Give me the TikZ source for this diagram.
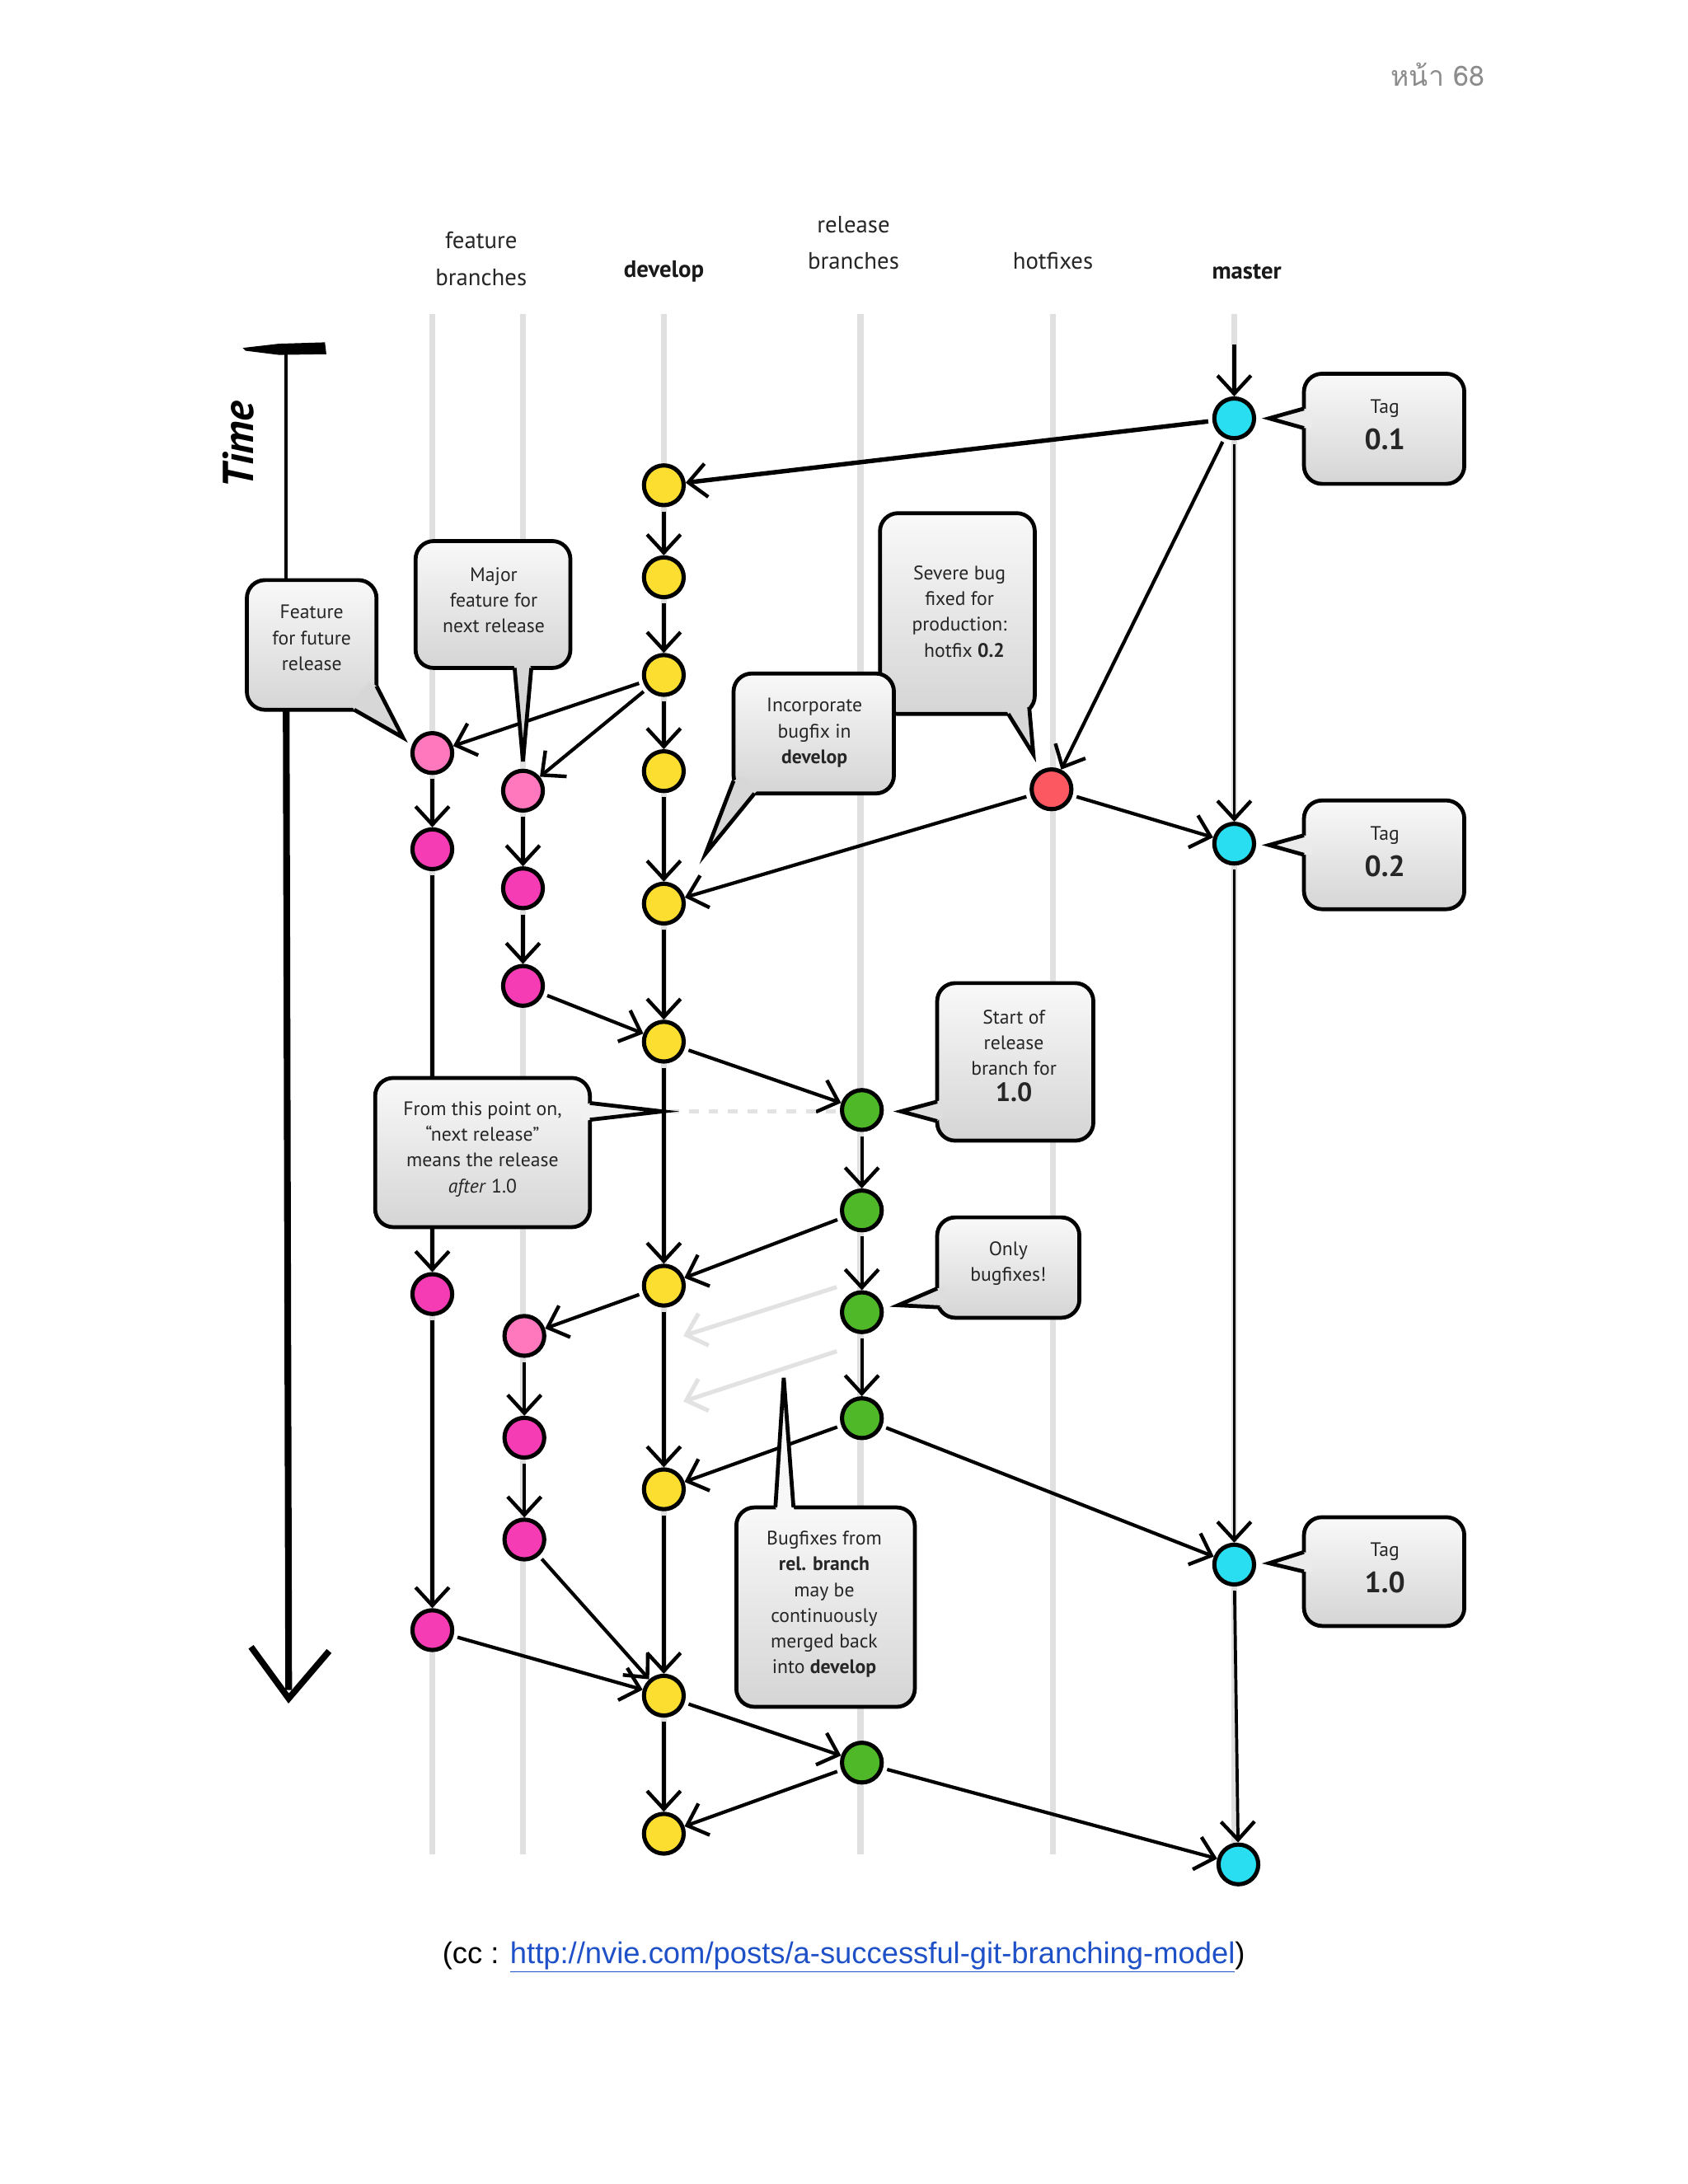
\documentclass[tikz,border=0pt]{standalone}
\usepackage{fontspec}
\setmainfont{PT Sans}
\newfontfamily\footfont{Liberation Sans}
\newfontfamily\thaifont[Script=Thai]{Loma}
\usetikzlibrary{arrows.meta,calc}
\definecolor{cyel}{RGB}{252,222,48}
\definecolor{ccyan}{RGB}{40,222,240}
\definecolor{cpinkl}{RGB}{255,120,190}
\definecolor{cmag}{RGB}{245,60,180}
\definecolor{cred}{RGB}{252,88,98}
\definecolor{cgreen}{RGB}{78,184,40}
\definecolor{collinec}{RGB}{224,224,224}
\definecolor{fadedc}{RGB}{226,226,226}
\definecolor{linkblue}{RGB}{30,80,200}
\definecolor{pagegray}{RGB}{140,140,140}
\pgfdeclarelayer{bg}
\pgfdeclarelayer{edges}
\pgfsetlayers{bg,edges,main}
\newcommand\mkptr[5]{%
  \fill[#5] (#2) -- (#3) -- (#4) -- ($(#4)!6pt!(#1.center)$) -- ($(#2)!6pt!(#1.center)$) -- cycle;
  \draw[ptrline] (#2) -- (#3) -- (#4);
}
\begin{document}
\begin{tikzpicture}[x=1pt,y=-1pt,
  commit/.style={circle,draw=black,line width=3pt,minimum size=28.5pt,inner sep=0pt},
  yel/.style={commit,fill=cyel},
  cya/.style={commit,fill=ccyan},
  pnk/.style={commit,fill=cpinkl},
  mag/.style={commit,fill=cmag},
  rd/.style={commit,fill=cred},
  grn/.style={commit,fill=cgreen},
  cedge/.style={draw=black,line width=2.5pt,shorten <=3pt,-{Straight Barb[length=13pt,width=24pt,line width=2.6pt]}},
  fedge/.style={draw=fadedc,line width=3pt,shorten <=0pt,-{Straight Barb[length=13pt,width=24pt,line width=3pt]}},
  callbox/.style={draw=black,line width=2.8pt,rounded corners=13pt,top color=gray!5,bottom color=gray!33,inner sep=0pt},
  ptrline/.style={draw=black,line width=2.8pt,line join=miter},
  ctext/.style={font=\fontsize{14}{18.5}\selectfont,align=center,text=black!85},
  tagnum/.style={font=\bfseries\fontsize{21}{22}\selectfont,text=black!85},
  hdr/.style={font=\fontsize{17}{20}\selectfont,anchor=base,text=black!85},
  hdrb/.style={font=\bfseries\fontsize{17}{20}\selectfont,anchor=base,text=black!90},
  colline/.style={draw=collinec,line width=4.5pt},
]
\useasboundingbox (0,0) rectangle (1210.4,1566.2);

\begin{pgfonlayer}{bg}
\fill[white] (0,0) rectangle (1210.4,1566.2);
% column guide lines
\foreach \cx in {310,375,476,617,755,885}{
  \draw[colline] (\cx,225) -- (\cx,1330);
}
% time arrow
\fill[black] (174,249.5) -- (200,246.5) -- (233,245.5) -- (234,254) -- (200,254.5) -- (176,251.5) -- cycle;
\draw[line width=2.4pt] (205,252) -- (205,430);
\draw[line width=4.8pt] (205,420) -- (207,1212);
\draw[line width=4.5pt,line join=miter] (180,1181) -- (207,1218) -- (236,1184);
\end{pgfonlayer}

% headers
\node[hdr] (hf1) at (345,178) {feature};
\node[hdr] (hf2) at (345,205) {branches};
\node[hdrb] (hdev) at (476,199) {develop};
\node[hdr] (hr1) at (612,167) {release};
\node[hdr] (hr2) at (612,193) {branches};
\node[hdr] (hhot) at (755,193) {hotfixes};
\node[hdrb] (hmas) at (894,200) {master};
\node[anchor=base east,font=\thaifont\fontsize{20}{24}\selectfont,text=pagegray] (pg) at (1068,62) {หน้า 68};
\node[rotate=90,font=\bfseries\itshape\fontsize{31}{34}\selectfont] (time) at (171,319) {Time};

% commits
\node[cya] (M1) at (885,300) {};
\node[cya] (M2) at (885,605) {};
\node[cya] (M3) at (885,1122) {};
\node[cya] (M4) at (888,1337) {};
\node[yel] (D1) at (476,348) {};
\node[yel] (D2) at (476,414) {};
\node[yel] (D3) at (476,484) {};
\node[yel] (D4) at (476,553) {};
\node[yel] (D5) at (476,648) {};
\node[yel] (D6) at (476,747) {};
\node[yel] (D7) at (476,922) {};
\node[yel] (D8) at (476,1068) {};
\node[yel] (D9) at (476,1216) {};
\node[yel] (D10) at (476,1315) {};
\node[pnk] (F1a) at (310,540) {};
\node[mag] (F1b) at (310,609) {};
\node[mag] (F1c) at (310,928) {};
\node[mag] (F1d) at (310,1169) {};
\node[pnk] (F2a) at (375,567) {};
\node[mag] (F2b) at (375,637) {};
\node[mag] (F2c) at (375,707) {};
\node[pnk] (F2d) at (376,958) {};
\node[mag] (F2e) at (376,1031) {};
\node[mag] (F2f) at (376,1104) {};
\node[rd] (H1) at (754,566) {};
\node[grn] (R1) at (618,796) {};
\node[grn] (R2) at (618,868) {};
\node[grn] (R3) at (618,941) {};
\node[grn] (R4) at (618,1017) {};
\node[grn] (R5) at (618,1264) {};

\coordinate (mtop) at (885,247);
\coordinate (fa1s) at (600,923);
\coordinate (fa1e) at (490,958);
\coordinate (fa2s) at (600,969);
\coordinate (fa2e) at (490,1005);
\coordinate (dashs) at (480,797);
\coordinate (dashe) at (600,797);

\begin{pgfonlayer}{edges}
\draw[cedge,shorten <=0pt] (mtop) -- (M1);
\draw[cedge,line width=3.2pt] (M1) -- (D1);
\draw[cedge] (M1) -- (H1);
\draw[cedge,line width=2.2pt] (M1) -- (M2);
\draw[cedge] (D1) -- (D2);
\draw[cedge] (D2) -- (D3);
\draw[cedge] (D3) -- (D4);
\draw[cedge] (D4) -- (D5);
\draw[cedge] (D5) -- (D6);
\draw[cedge] (D6) -- (D7);
\draw[cedge] (D7) -- (D8);
\draw[cedge] (D8) -- (D9);
\draw[cedge] (D9) -- (D10);
\draw[cedge] (D3) -- (F1a);
\draw[cedge] (D3) -- (F2a);
\draw[cedge] (F1a) -- (F1b);
\draw[cedge] (F1b) -- (F1c);
\draw[cedge] (F1c) -- (F1d);
\draw[cedge] (F1d) -- (D9);
\draw[cedge] (F2a) -- (F2b);
\draw[cedge] (F2b) -- (F2c);
\draw[cedge] (F2c) -- (D6);
\draw[cedge] (D7) -- (F2d);
\draw[cedge] (F2d) -- (F2e);
\draw[cedge] (F2e) -- (F2f);
\draw[cedge] (F2f) -- (D9);
\draw[cedge] (H1) -- (D5);
\draw[cedge] (H1) -- (M2);
\draw[cedge] (D6) -- (R1);
\draw[cedge] (R1) -- (R2);
\draw[cedge] (R2) -- (R3);
\draw[cedge] (R3) -- (R4);
\draw[cedge] (R2) -- (D7);
\draw[cedge] (R4) -- (D8);
\draw[cedge] (R4) -- (M3);
\draw[cedge,line width=2.2pt] (M2) -- (M3);
\draw[cedge,line width=2.2pt] (M3) -- (M4);
\draw[cedge] (D9) -- (R5);
\draw[cedge] (R5) -- (D10);
\draw[cedge] (R5) -- (M4);
\draw[fedge] (fa1s) -- (fa1e);
\draw[fedge] (fa2s) -- (fa2e);
\draw[draw=fadedc,line width=3pt,dash pattern=on 7pt off 7pt] (dashs) -- (dashe);
\end{pgfonlayer}

% callouts
\node[callbox,minimum width=115pt,minimum height=79pt] (tagA) at (992.5,307.5) {};
\mkptr{tagA}{935,293}{910,300}{935,307}{gray!16}
\node[ctext] (tA1) at (993,293) {Tag};
\node[tagnum] (tA2) at (993,315) {0.1};

\node[callbox,minimum width=115pt,minimum height=78pt] (tagB) at (992.5,613) {};
\mkptr{tagB}{935,599}{910,606}{935,613}{gray!16}
\node[ctext] (tB1) at (993,599) {Tag};
\node[tagnum] (tB2) at (993,621) {0.2};

\node[callbox,minimum width=115pt,minimum height=78pt] (tagC) at (992.5,1127) {};
\mkptr{tagC}{935,1113}{910,1121}{935,1127}{gray!16}
\node[ctext] (tC1) at (993,1113) {Tag};
\node[tagnum] (tC2) at (993,1135) {1.0};

\node[callbox,minimum width=93pt,minimum height=93pt] (cFut) at (223.5,462.5) {};
\mkptr{cFut}{270,492}{289,529}{254,509}{gray!31}
\node[ctext] (tFut) at (223.5,457.5) {Feature\\for future\\release};

\node[callbox,minimum width=111pt,minimum height=91pt] (cMaj) at (353.5,433.5) {};
\mkptr{cMaj}{369,479}{375,546}{381,479}{gray!32}
\node[ctext] (tMaj) at (354,430.5) {Major\\feature for\\next release};

\node[callbox,minimum width=111pt,minimum height=144pt] (cSev) at (686.5,440) {};
\mkptr{cSev}{738,507}{741,541}{723,512}{gray!31}
\node[ctext] (tSev) at (688,438.5) {Severe bug\\fixed for\\production:\\\hspace*{0.5em}hotfix \textbf{0.2}};

\node[callbox,minimum width=115pt,minimum height=86pt] (cInc) at (583.5,526) {};
\mkptr{cInc}{526,560}{506,612}{541,569}{gray!31}
\node[ctext] (tInc) at (584,525.5) {Incorporate\\bugfix in\\\textbf{develop}};

\node[callbox,minimum width=112pt,minimum height=113pt] (cStart) at (728,761.5) {};
\mkptr{cStart}{672,790}{646,797}{672,804}{gray!27}
\node[ctext] (tStart) at (727,757) {Start of\\release\\branch for\\{\bfseries\fontsize{19}{20}\selectfont 1.0}};

\node[callbox,minimum width=154pt,minimum height=107pt] (cFrom) at (346,826.5) {};
\mkptr{cFrom}{423,791}{475,797}{423,803}{gray!11}
\node[ctext] (tFrom) at (346,824) {From this point on,\\“next release”\\means the release\\\textit{after} 1.0};

\node[callbox,minimum width=102pt,minimum height=72pt] (cOnly) at (723,909) {};
\mkptr{cOnly}{672,924}{644,936}{674,937.5}{gray!27}
\node[ctext] (tOnly) at (723,906) {Only\\bugfixes!};

\node[callbox,minimum width=128pt,minimum height=143pt] (cBug) at (592,1152.5) {};
\mkptr{cBug}{556,1081}{562,988}{569,1081}{gray!6}
\node[ctext] (tBug) at (591,1150.5) {Bugfixes from\\\textbf{rel. branch}\\may be\\continuously\\merged back\\into \textbf{develop}};

% footer
\node[anchor=base,font=\footfont\fontsize{21.5}{24}\selectfont] (foot) at (605,1408) {(cc : \textcolor{linkblue}{\underline{http://nvie.com/posts/a-successful-git-branching-model}})};
\end{tikzpicture}
\end{document}
